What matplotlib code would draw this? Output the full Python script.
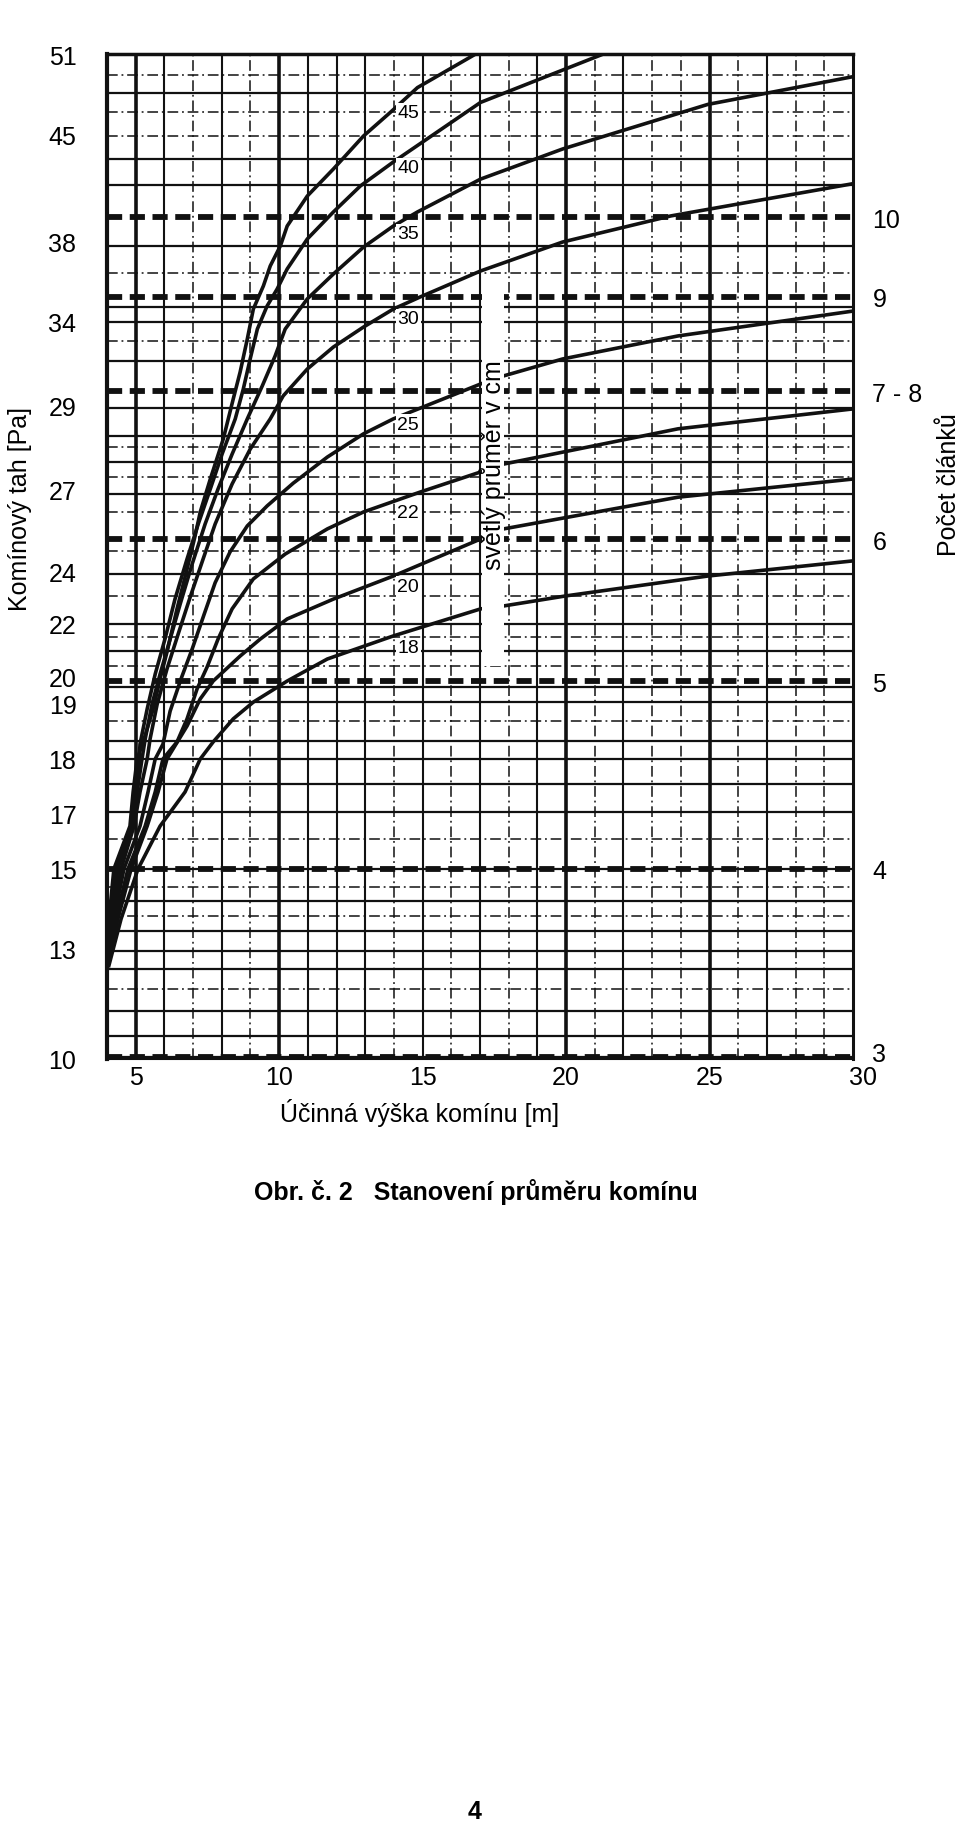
import numpy as np
import matplotlib.pyplot as plt
from matplotlib.ticker import NullLocator
from matplotlib.transforms import ScaledTranslation

plt.rcParams['font.family'] = ['Liberation Sans', 'DejaVu Sans']

# nomogram draft scale: Pa label and its height above the bottom edge (px)
pa_ticks = [10, 13, 15, 17, 18, 19, 20, 22, 24, 27, 29, 34, 38, 45, 51]
pa_height = [0, 110, 190, 245, 300, 355, 382, 435, 488, 570, 653, 737, 818, 925, 1005]

# number of sections (right scale) and the Pa where each heavy dashed line sits
pocet_labels = ['3', '4', '5', '6', '7 - 8', '9', '10']
pocet_pa = [10.05, 15.0, 19.85, 25.17, 29.89, 35.24, 39.57]

x_ticks = [5, 10, 15, 20, 25, 30]

# grid of the chart paper
grid_v_heavy = [5, 10, 20, 25]
grid_v_solid = [6, 8, 11, 12, 13, 15, 17, 19, 22, 27]
grid_v_dashdot = [7, 9, 14, 16, 18, 21, 23, 24, 26, 28, 29]
grid_h_solid = [48.04, 43.36, 41.66, 37.75, 34.74, 34.0, 31.68, 28.95, 28.28, 27.65,
                26.82, 23.89, 22.0, 20.98, 19.63, 19.07, 18.33, 18.0, 17.55, 17.04,
                14.2, 13.45, 12.95, 12.45, 11.31, 10.63]
grid_h_dashdot = [49.45, 46.63, 44.87, 36.42, 32.87, 28.01, 27.29, 26.16, 24.73,
                  23.06, 21.51, 20.41, 18.69, 16.09, 14.55, 13.83, 11.91]

# curves: inner diameter [cm] -> effective height [m], draft [Pa]
d18_x = [4.05, 4.49, 5.08, 5.85, 6.72, 7.25, 7.70, 8.40, 9.10, 10.28, 11.68, 13.98, 17.02, 17.82, 19.99, 24.94, 30.0]
d18_y = [12.5, 13.75, 15.0, 16.56, 17.40, 18.0, 18.31, 18.73, 19.07, 19.85, 20.68, 21.55, 22.57, 22.68, 23.06, 23.81, 24.37]

d20_x = [4.05, 4.38, 4.84, 5.40, 5.78, 6.09, 6.79, 7.25, 7.70, 8.64, 9.34, 10.28, 11.89, 13.98, 17.02, 17.82, 23.9, 30.0]
d20_y = [12.6, 13.75, 15.0, 16.56, 17.40, 18.0, 18.60, 19.19, 19.85, 20.79, 21.43, 22.19, 22.94, 23.81, 25.17, 25.54, 26.7, 27.24]

d22_x = [4.05, 4.31, 4.73, 5.33, 5.68, 5.95, 6.44, 6.79, 7.14, 7.49, 7.87, 8.36, 9.10, 10.21, 11.68, 12.94, 14.92, 17.02, 17.82, 23.90, 30.0]
d22_y = [12.7, 13.75, 15.0, 16.56, 17.40, 18.0, 18.31, 18.73, 19.56, 20.38, 21.43, 22.57, 23.70, 24.62, 25.54, 26.16, 26.89, 27.41, 27.60, 28.45, 28.93]

d25_x = [4.05, 4.24, 4.59, 5.15, 5.43, 5.68, 5.95, 6.20, 6.58, 6.97, 7.39, 7.77, 8.29, 8.89, 9.58, 10.49, 11.68, 12.94, 13.98, 17.02, 17.82, 19.88, 23.90, 30.0]
d25_y = [12.8, 13.75, 15.0, 16.56, 17.40, 18.0, 18.27, 18.87, 19.93, 21.06, 22.38, 23.56, 24.70, 25.65, 26.38, 27.14, 27.77, 28.33, 28.69, 30.31, 30.79, 31.80, 33.17, 34.54]

d30_x = [4.05, 4.17, 4.49, 4.94, 5.15, 5.40, 5.50, 5.75, 6.09, 6.48, 6.90, 7.35, 7.77, 8.36, 8.99, 9.69, 10.14, 10.98, 11.89, 12.94, 13.98, 14.92, 17.02, 19.88, 23.65, 30.0]
d30_y = [12.9, 13.75, 15.0, 16.56, 17.40, 18.0, 18.36, 19.0, 20.30, 21.62, 23.02, 24.44, 25.72, 27.12, 27.96, 28.69, 29.60, 31.20, 32.51, 33.70, 34.64, 35.24, 36.52, 37.95, 39.64, 41.75]

d35_x = [4.05, 4.14, 4.38, 4.87, 5.05, 5.22, 5.33, 5.57, 5.85, 6.20, 6.55, 6.97, 7.42, 7.87, 8.36, 8.89, 9.41, 9.86, 10.21, 10.98, 11.89, 12.94, 13.98, 14.82, 17.02, 19.88, 24.94, 30.0]
d35_y = [13.0, 13.75, 15.0, 16.56, 17.40, 18.0, 18.36, 19.0, 20.11, 21.43, 22.75, 24.26, 25.72, 27.0, 27.84, 28.69, 30.19, 31.98, 33.58, 35.14, 36.37, 37.70, 38.98, 39.90, 42.05, 44.02, 47.22, 49.30]

d40_x = [4.05, 4.10, 4.31, 4.84, 4.98, 5.12, 5.15, 5.40, 5.68, 6.02, 6.37, 6.79, 7.18, 7.60, 8.01, 8.47, 8.75, 8.99, 9.24, 9.58, 9.93, 10.28, 10.98, 11.89, 12.83, 13.98, 17.02, 21.3]
d40_y = [13.1, 13.75, 15.0, 16.56, 17.40, 18.0, 18.27, 18.91, 20.11, 21.43, 22.94, 24.44, 25.72, 27.0, 27.84, 28.69, 30.01, 31.80, 33.58, 34.79, 35.63, 36.62, 38.13, 39.90, 41.60, 43.17, 47.37, 51.0]

d45_x = [4.05, 4.07, 4.24, 4.80, 4.91, 5.05, 5.26, 5.61, 5.85, 6.09, 6.44, 6.79, 7.07, 7.25, 7.60, 8.05, 8.40, 8.64, 8.89, 9.10, 9.45, 9.69, 10.04, 10.28, 10.98, 11.89, 12.94, 13.88, 14.82, 16.85]
d45_y = [13.2, 13.75, 15.0, 16.56, 17.40, 18.0, 18.31, 18.91, 19.93, 20.94, 22.57, 24.07, 25.28, 26.16, 27.24, 28.20, 29.42, 31.02, 32.99, 34.64, 35.78, 36.77, 37.75, 38.98, 40.94, 42.71, 44.87, 46.63, 48.48, 51.0]

curves = [('18', d18_x, d18_y), ('20', d20_x, d20_y), ('22', d22_x, d22_y),
          ('25', d25_x, d25_y), ('30', d30_x, d30_y), ('35', d35_x, d35_y),
          ('40', d40_x, d40_y), ('45', d45_x, d45_y)]


def to_height(v):
    return np.interp(v, pa_ticks, pa_height)


def from_height(h):
    return np.interp(h, pa_height, pa_ticks)


fig = plt.figure(figsize=(9.6, 18.24), dpi=100)
ax = fig.add_axes([107 / 960, 1 - 1060 / 1824, 746 / 960, 1005 / 1824])
ax.set_xlim(4, 30)
ax.set_yscale('function', functions=(to_height, from_height))
ax.set_ylim(10, 51)

ink = '#111111'
dashdot = (0, (7, 2.5, 1.2, 2.5))

for v in grid_v_heavy:
    ax.axvline(v, color=ink, lw=2.6, zorder=1)
for v in grid_v_solid:
    ax.axvline(v, color=ink, lw=1.5, zorder=1)
for v in grid_v_dashdot:
    ax.axvline(v, color=ink, lw=1.1, ls=dashdot, zorder=1)
for p in grid_h_solid:
    ax.axhline(p, color=ink, lw=1.6, zorder=1)
for p in grid_h_dashdot:
    ax.axhline(p, color=ink, lw=1.1, ls=dashdot, zorder=1)
for p in pocet_pa[:2]:
    ax.axhline(p, color=ink, lw=1.6, zorder=1)
for p in pocet_pa:
    ax.axhline(p, color=ink, lw=4.2, ls=(0, (2.6, 1.3)), zorder=2)

for name, xs, ys in curves:
    ax.plot(xs, ys, color=ink, lw=2.6, solid_capstyle='butt', zorder=3)
    y_lab = np.interp(14.5, xs, ys)
    ax.annotate(name, (14.5, y_lab), xytext=(0, -12), textcoords='offset points',
                ha='center', va='center', fontsize=14, zorder=6,
                bbox=dict(boxstyle='square,pad=0.08', fc='white', ec='none'))

# white strip carrying the vertical caption
ax.fill_between([17.07, 17.82], 20.4, 36.3, color='white', lw=0, zorder=4)
ax.text(17.45, 27.6, 'světlý průměr v cm', rotation=90, ha='center', va='center',
        fontsize=18, zorder=5)

ax.set_xticks(x_ticks)
ax.set_xticklabels([str(t) for t in x_ticks], fontsize=18)
ax.set_yticks(pa_ticks)
ax.set_yticklabels([str(t) for t in pa_ticks], fontsize=18)
ax.yaxis.set_minor_locator(NullLocator())
ax.tick_params(axis='x', length=0, pad=4)
ax.tick_params(axis='y', length=0, pad=22)
lab30 = ax.get_xticklabels()[-1]
lab30.set_transform(lab30.get_transform() + ScaledTranslation(0.1, 0, fig.dpi_scale_trans))

for side, w in [('left', 3.0), ('top', 2.5), ('right', 2.2), ('bottom', 1.5)]:
    ax.spines[side].set_linewidth(w)
    ax.spines[side].set_color(ink)

ax2 = ax.twinx()
ax2.set_yscale('function', functions=(to_height, from_height))
ax2.set_ylim(10, 51)
ax2.set_yticks(pocet_pa)
ax2.set_yticklabels(pocet_labels, fontsize=18)
ax2.yaxis.set_minor_locator(NullLocator())
ax2.tick_params(axis='y', length=0, pad=14)
lab3 = ax2.get_yticklabels()[0]
lab3.set_transform(lab3.get_transform() + ScaledTranslation(0, 0.06, fig.dpi_scale_trans))
for s in ax2.spines.values():
    s.set_visible(False)

fig.text(20 / 960, 1 - 509 / 1824, 'Komínový tah [Pa]', rotation=90,
         ha='center', va='center', fontsize=18)
fig.text(949 / 960, 1 - 485 / 1824, 'Počet článků', rotation=90,
         ha='center', va='center', fontsize=18)
fig.text(420 / 960, 1 - 1113 / 1824, 'Účinná výška komínu [m]',
         ha='center', va='center', fontsize=18)
fig.text(254 / 960, 1 - 1192 / 1824, 'Obr. č. 2   Stanovení průměru komínu',
         ha='left', va='center', fontsize=18, fontweight='bold')
fig.text(475 / 960, 1 - 1812 / 1824, '4', ha='center', va='center', fontsize=18,
         fontweight='bold')

fig.savefig('out.png', dpi=100)
